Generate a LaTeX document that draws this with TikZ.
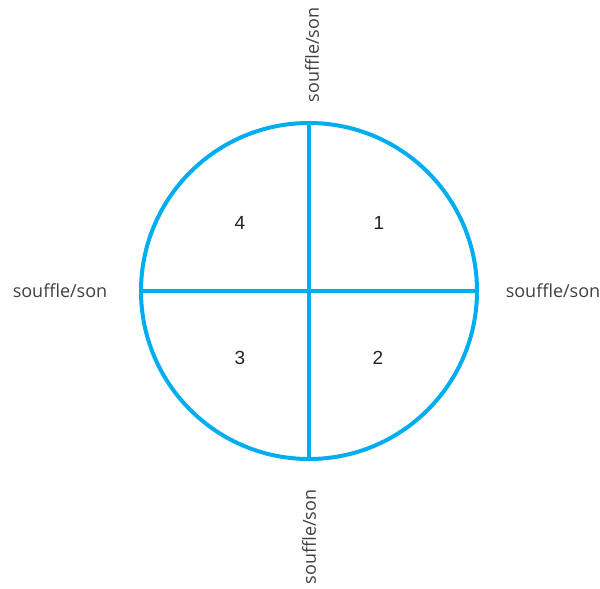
\documentclass[tikz,border=0pt]{standalone}
\usepackage{fontspec}
\setmainfont{Liberation Sans}
\newfontfamily\labelfont{Open Sans}
\usetikzlibrary{positioning}
\definecolor{ringblue}{HTML}{00AEEF}
\definecolor{labelgrey}{HTML}{404040}
\definecolor{digitgrey}{HTML}{222222}

\begin{document}
\begin{tikzpicture}[
  x=1pt,y=-1pt,
  ring/.style={draw=ringblue,line width=4pt,circle,minimum size=336pt,inner sep=0pt},
  cross/.style={draw=ringblue,line width=4pt},
  side/.style={font=\labelfont\fontsize{18}{21}\selectfont,text=labelgrey,inner sep=0pt},
  quad/.style={font=\fontsize{19}{22}\selectfont,text=digitgrey,inner sep=0pt}
]
\useasboundingbox (0,0) rectangle (600,589);
\node[ring] (wheel) at (309,291) {};
\draw[cross] (wheel.north) -- (wheel.south);
\draw[cross] (wheel.west) -- (wheel.east);
% quadrants
\node[quad] (q1) at (379,223) {1};
\node[quad] (q2) at (378,358) {2};
\node[quad] (q3) at (240,358) {3};
\node[quad] (q4) at (240,223) {4};
% labels round the wheel
\node[side,rotate=90] (top) at (312,55) {souffle/son};
\node[side,rotate=90] (bottom) at (309,537) {souffle/son};
\node[side] (left) at (60,291) {souffle/son};
\node[side] (right) at (553,291) {souffle/son};
\end{tikzpicture}
\end{document}
